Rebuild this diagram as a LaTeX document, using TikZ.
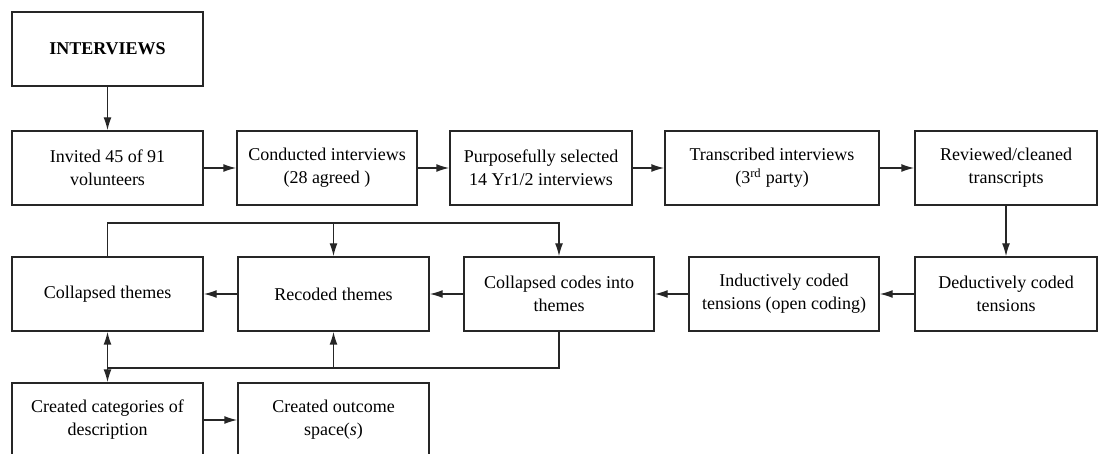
\documentclass[tikz,border=0pt]{standalone}
\usepackage{fontspec}
\setmainfont{Liberation Serif}
\usetikzlibrary{arrows.meta}

\begin{document}
\begin{tikzpicture}[
  x=1pt, y=-1pt, line width=1.4pt, draw=black!85,
  box/.style={draw, rectangle, align=center, inner sep=0pt,
    minimum height=74pt, font=\fontsize{18}{23}\selectfont},
  arr/.style={-{Latex[length=13pt,width=8pt]}},
]
  \useasboundingbox (0,0) rectangle (1098,454);

  % first row
  \node[box, minimum width=191pt, font=\fontsize{18}{23}\selectfont\bfseries]
    (int) at (107.5,49) {INTERVIEWS};
  \node[box, minimum width=191pt] (inv) at (107.5,168) {Invited 45 of 91\\volunteers};
  \node[box, minimum width=180pt] (con) at (327,168) {Conducted interviews\\(28 agreed )};
  \node[box, minimum width=182pt] (pur) at (541,168) {Purposefully selected\\14 Yr1/2 interviews};
  \node[box, minimum width=214pt] (tra) at (772,168) {Transcribed interviews\\(3\textsuperscript{rd} party)};
  \node[box, minimum width=182pt] (rev) at (1006,168) {Reviewed/cleaned\\transcripts};

  % second row (right to left)
  \node[box, minimum width=182pt] (ded) at (1006,294) {Deductively coded\\tensions};
  \node[box, minimum width=190pt] (ind) at (784,294) {Inductively coded\\tensions (open coding)};
  \node[box, minimum width=190pt] (cc) at (559,294) {Collapsed codes into\\themes};
  \node[box, minimum width=191pt] (rec) at (333.5,294) {Recoded themes};
  \node[box, minimum width=191pt] (cth) at (107.5,294) {Collapsed themes};

  % third row
  \node[box, minimum width=191pt] (cat) at (107.5,420) {Created categories of\\description};
  \node[box, minimum width=191pt] (out) at (333.5,420) {Created outcome\\space(\textit{s})};

  % loop points
  \coordinate (tl) at (107.5,223);
  \coordinate (tm) at (333.5,223);
  \coordinate (tr) at (559,223);
  \coordinate (bl) at (107.5,368);
  \coordinate (bm) at (333.5,368);
  \coordinate (br) at (559,368);

  % arrows
  \draw[arr] (int) -- (inv);
  \draw[arr] (inv) -- (con);
  \draw[arr] (con) -- (pur);
  \draw[arr] (pur) -- (tra);
  \draw[arr] (tra) -- (rev);
  \draw[arr] (rev) -- (ded);
  \draw[arr] (ded) -- (ind);
  \draw[arr] (ind) -- (cc);
  \draw[arr] (cc) -- (rec);
  \draw[arr] (rec) -- (cth);
  \draw[arr] (cat) -- (out);

  % top loop
  \draw[arr] (cth.north) -- (tl) -- (tr) -- (cc.north);
  \draw[arr] (tm) -- (rec.north);

  % bottom loop
  \draw (cc.south) -- (br) -- (bl);
  \draw[arr] (bm) -- (rec.south);
  \draw[arr] (bl) -- (cth.south);
  \draw[arr] (bl) -- (cat.north);
\end{tikzpicture}
\end{document}
